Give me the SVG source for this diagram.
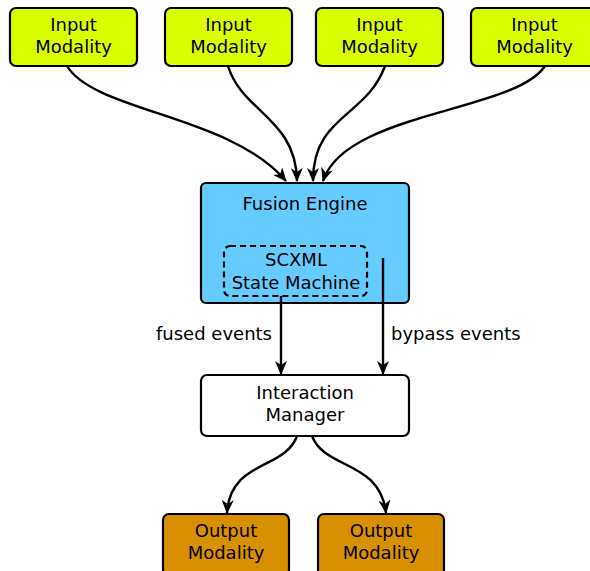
<svg xmlns="http://www.w3.org/2000/svg" width="590" height="571" viewBox="0 0 590 571">
  <style>
    text { font-family: "DejaVu Sans", Verdana, sans-serif; font-size: 18px; fill: #000; }
    .c { text-anchor: middle; }
    .box { stroke: #000; stroke-width: 2.2; }
    .in { fill: #daff00; }
    .fusion { fill: #66ccff; }
    .im { fill: #ffffff; }
    .out { fill: #d99000; }
    .dash { fill: none; stroke: #000; stroke-width: 2.2; stroke-dasharray: 6 4; }
    .edge { fill: none; stroke: #000; stroke-width: 2.4; marker-end: url(#arrow); }
  </style>
  <defs>
    <marker id="arrow" viewBox="0 0 14 12" refX="13" refY="6" markerWidth="14" markerHeight="12" markerUnits="userSpaceOnUse" orient="auto">
      <path d="M0,0 L14,6 L0,12 L4,6 z" fill="#000"/>
    </marker>
  </defs>

  <!-- input modalities -->
  <g id="input1">
    <rect class="box in" x="10" y="8" width="127" height="58" rx="6"/>
    <text class="c" x="73.5" y="31">Input</text>
    <text class="c" x="73.5" y="53">Modality</text>
  </g>
  <g id="input2">
    <rect class="box in" x="165" y="8" width="127" height="58" rx="6"/>
    <text class="c" x="228.5" y="31">Input</text>
    <text class="c" x="228.5" y="53">Modality</text>
  </g>
  <g id="input3">
    <rect class="box in" x="316" y="8" width="127" height="58" rx="6"/>
    <text class="c" x="379.5" y="31">Input</text>
    <text class="c" x="379.5" y="53">Modality</text>
  </g>
  <g id="input4">
    <rect class="box in" x="471" y="8" width="127" height="58" rx="6"/>
    <text class="c" x="534.5" y="31">Input</text>
    <text class="c" x="534.5" y="53">Modality</text>
  </g>

  <!-- fusion engine with embedded state machine -->
  <g id="fusion">
    <rect class="box fusion" x="201" y="183" width="208" height="120" rx="5"/>
    <text class="c" x="305" y="210">Fusion Engine</text>
  </g>
  <g id="scxml">
    <rect class="dash" x="224" y="246" width="143" height="50" rx="6"/>
    <text class="c" x="296" y="266">SCXML</text>
    <text class="c" x="296" y="289">State Machine</text>
  </g>

  <!-- interaction manager -->
  <g id="manager">
    <rect class="box im" x="201" y="375" width="208" height="61" rx="6"/>
    <text class="c" x="305" y="399">Interaction</text>
    <text class="c" x="305" y="421">Manager</text>
  </g>

  <!-- output modalities -->
  <g id="output1">
    <rect class="box out" x="163" y="514" width="126" height="62" rx="6"/>
    <text class="c" x="226" y="537">Output</text>
    <text class="c" x="226" y="559">Modality</text>
  </g>
  <g id="output2">
    <rect class="box out" x="318" y="514" width="126" height="62" rx="6"/>
    <text class="c" x="381" y="537">Output</text>
    <text class="c" x="381" y="559">Modality</text>
  </g>

  <!-- connectors -->
  <g id="connectors">
    <path class="edge" d="M67,66 C95,112 230,115 286,181"/>
    <path class="edge" d="M228,66 C242,112 296,118 297,181"/>
    <path class="edge" d="M385,66 C366,118 313,115 313,181"/>
    <path class="edge" d="M545,66 C515,112 345,112 323,181"/>
    <path class="edge" d="M281,296 L281,374"/>
    <path class="edge" d="M383,258 L383,374"/>
    <path class="edge" d="M297,436 C285,470 230,460 227,513"/>
    <path class="edge" d="M312,436 C325,470 380,460 386,513"/>
    <text x="272" y="340" text-anchor="end">fused events</text>
    <text x="391" y="340">bypass events</text>
  </g>
</svg>
